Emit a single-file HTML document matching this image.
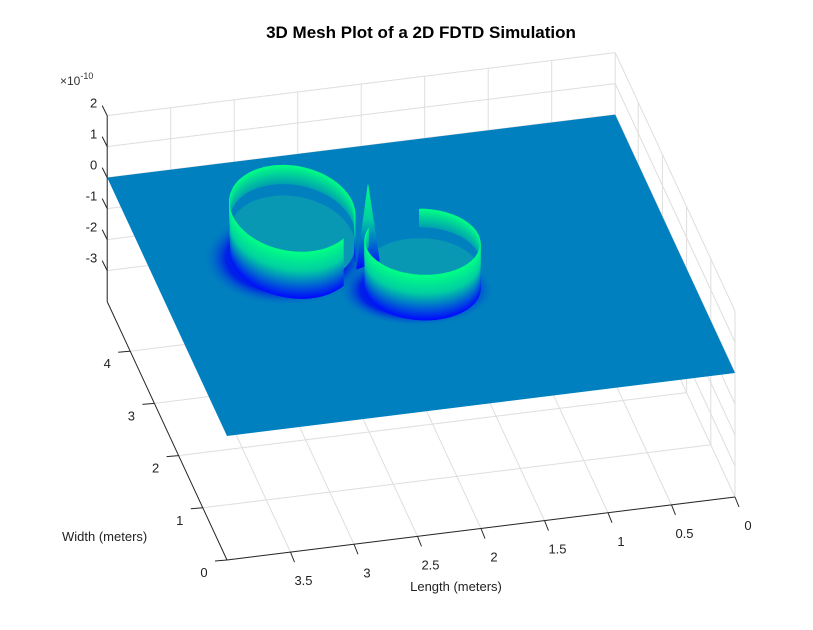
<!DOCTYPE html>
<html><head><meta charset="utf-8"><style>
body{margin:0;background:#fff}
svg{display:block;font-family:"Liberation Sans",Arial,sans-serif}
</style></head><body>
<svg id="chart" width="813" height="630" viewBox="0 0 813 630" xmlns="http://www.w3.org/2000/svg">
<defs>
<linearGradient id="wall" x1="0" y1="0" x2="0" y2="1">
<stop offset="0" stop-color="#00ff84"/><stop offset="0.4" stop-color="#00d0a0"/><stop offset="1" stop-color="#0008ff"/>
</linearGradient>
<linearGradient id="wallIn" x1="0" y1="0" x2="0" y2="1">
<stop offset="0" stop-color="#00ff84"/><stop offset="1" stop-color="#00a0b0"/>
</linearGradient>
<radialGradient id="pit">
<stop offset="0" stop-color="#0000ff"/><stop offset="0.72" stop-color="#0020e8"/><stop offset="1" stop-color="#0080bf" stop-opacity="0"/>
</radialGradient>
</defs>
<rect width="813" height="630" fill="#fff"/>
<text x="421" y="38" text-anchor="middle" font-size="17" font-weight="bold" fill="#000">3D Mesh Plot of a 2D FDTD Simulation</text>
<text x="60" y="85" font-size="12" fill="#333">×10<tspan font-size="9" dy="-6">-10</tspan></text>
<g id="grid"></g>
<g id="surface"></g>
<g id="axes"></g>
<text x="62" y="541" font-size="13" fill="#222">Width (meters)</text>
<text x="456" y="591" text-anchor="middle" font-size="13" fill="#222">Length (meters)</text>
</svg>
<script>
const lengthTicks=[0,0.5,1,1.5,2,2.5,3,3.5];
const widthTicks=[0,1,2,3,4];
const zTicks=[-3,-2,-1,0,1,2];
const lengthLabels=["0","0.5","1","1.5","2","2.5","3","3.5"];
const widthLabels=["0","1","2","3","4"];
const zLabels=["-3","-2","-1","0","1","2"];
const Lmax=4, Wmax=4.95, Zmin=-4, Zmax=2;
// ring features (L center, W center, L radius, W radius, height, gap angle deg, gap half-width deg)
const ringL=[2.89,2.03];
const ringW=[3.13,2.26];
const ringRL=[0.47,0.44];
const ringRW=[0.82,0.62];
const ringH=[1.5,1.45];
const ringGap=[215,75];
const ringGapW=[18,28];
const spikeL=[2.36];
const spikeW=[2.78];
const spikeH=[2.6];

function P(L,W,z){return [735-127*L-24.2*W, 497+15.75*L-52.2*W-(z-Zmin)*31];}
const NS="http://www.w3.org/2000/svg";
function mk(tag,attrs,parent){const e=document.createElementNS(NS,tag);for(const k in attrs)e.setAttribute(k,attrs[k]);parent.appendChild(e);return e;}
function line(a,b,stroke,w,parent){return mk('line',{x1:a[0],y1:a[1],x2:b[0],y2:b[1],stroke:stroke,'stroke-width':w},parent);}
const grid=document.getElementById('grid'), surf=document.getElementById('surface'), axes=document.getElementById('axes');
const gc="#dedede";
lengthTicks.concat([4]).forEach(L=>{const l=line(P(L,Wmax,Zmin),P(L,Wmax,Zmax),gc,1,grid);
});
zTicks.forEach(z=>{const l=line(P(0,Wmax,z),P(Lmax,Wmax,z),gc,1,grid);
});
widthTicks.forEach(W=>{const l=line(P(0,W,Zmin),P(0,W,Zmax),gc,1,grid);
});
zTicks.forEach(z=>{const l=line(P(0,0,z),P(0,Wmax,z),gc,1,grid);
});
lengthTicks.forEach(L=>{const l=line(P(L,0,Zmin),P(L,Wmax,Zmin),gc,1,grid);
});
widthTicks.forEach(W=>{const l=line(P(0,W,Zmin),P(Lmax,W,Zmin),gc,1,grid);
});
// plane
const c=[P(Lmax,0,0),P(0,0,0),P(0,Wmax,0),P(Lmax,Wmax,0)];
const plane=mk('polygon',{points:c.map(p=>p.join(',')).join(' '),fill:'#0080bf'},surf);


// pits
ringL.forEach((L,i)=>{const p=P(L,ringW[i],0);
const e=mk('ellipse',{cx:p[0]-6,cy:p[1]+3,rx:ringRL[i]*127*1.4,ry:ringRW[i]*52.2*1.12,fill:'url(#pit)'},surf);

});
// interior fill (teal)
ringL.forEach((L,i)=>{const pts=[];for(let k=0;k<60;k++){const a=k*6*Math.PI/180;
pts.push(P(L+ringRL[i]*Math.cos(a),ringW[i]+ringRW[i]*Math.sin(a),ringH[i]*0.35));}
const e=mk('polygon',{points:pts.map(p=>p[0].toFixed(1)+','+p[1].toFixed(1)).join(' '),fill:'#0898b4'},surf);

});
// wall quads
const quads=[];
const N=120;
ringL.forEach((L,i)=>{const cy=P(L,ringW[i],0)[1];
for(let k=0;k<N;k++){const t0=k*360/N,t1=(k+1)*360/N,tm=(t0+t1)/2;
let d=Math.abs(((tm-ringGap[i])%360+540)%360-180);if(d<ringGapW[i])continue;
const a0=t0*Math.PI/180,a1=t1*Math.PI/180;
const L0=L+ringRL[i]*Math.cos(a0),W0=ringW[i]+ringRW[i]*Math.sin(a0);
const L1=L+ringRL[i]*Math.cos(a1),W1=ringW[i]+ringRW[i]*Math.sin(a1);
const b0=P(L0,W0,0),b1=P(L1,W1,0),u1=P(L1,W1,ringH[i]),u0=P(L0,W0,ringH[i]);
const yy=(b0[1]+b1[1])/2;
const back=yy<cy;
if(back){b0[1]-=31*ringH[i]*0.6;b1[1]-=31*ringH[i]*0.6;}
quads.push({y:yy,back:back,pts:[b0,b1,u1,u0]});}});
spikeL.forEach((L,i)=>{const W=spikeW[i];
const b0=P(L+0.1,W-0.05,0),b1=P(L-0.1,W+0.05,0),tp=P(L,W,spikeH[i]);
quads.push({y:P(L,W,0)[1]+8,pts:[b0,b1,tp],spike:true});});
quads.sort((a,b)=>a.y-b.y);
quads.forEach(q=>{const p=mk('polygon',{points:q.pts.map(p=>p[0].toFixed(1)+','+p[1].toFixed(1)).join(' '),fill:q.back?'url(#wallIn)':'url(#wall)',stroke:q.back?'url(#wallIn)':'url(#wall)','stroke-width':0.6},surf);

});
// axes
const ac="#262626";
line(P(Lmax,Wmax,Zmin),P(Lmax,Wmax,Zmax),ac,1,axes);
line(P(Lmax,0,Zmin),P(Lmax,Wmax,Zmin),ac,1,axes);
line(P(0,0,Zmin),P(Lmax,0,Zmin),ac,1,axes);
zTicks.forEach((z,i)=>{const p=P(Lmax,Wmax,z);line([p[0]-5,p[1]-10],p,ac,1,axes);
const t=mk('text',{x:p[0]-10,y:p[1]-8,'text-anchor':'end','font-size':13,fill:'#222'},axes);t.textContent=zLabels[i];
});
widthTicks.forEach((W,i)=>{const p=P(Lmax,W,Zmin);line([p[0]-12,p[1]+1],p,ac,1,axes);
const t=mk('text',{x:p[0]-23,y:p[1]+17,'text-anchor':'middle','font-size':13,fill:'#222'},axes);t.textContent=widthLabels[i];
});
lengthTicks.forEach((L,i)=>{const p=P(L,0,Zmin);line(p,[p[0]+4,p[1]+10],ac,1,axes);
const t=mk('text',{x:p[0]+13,y:p[1]+33,'text-anchor':'middle','font-size':13,fill:'#222'},axes);t.textContent=lengthLabels[i];
});
</script>
</body></html>
